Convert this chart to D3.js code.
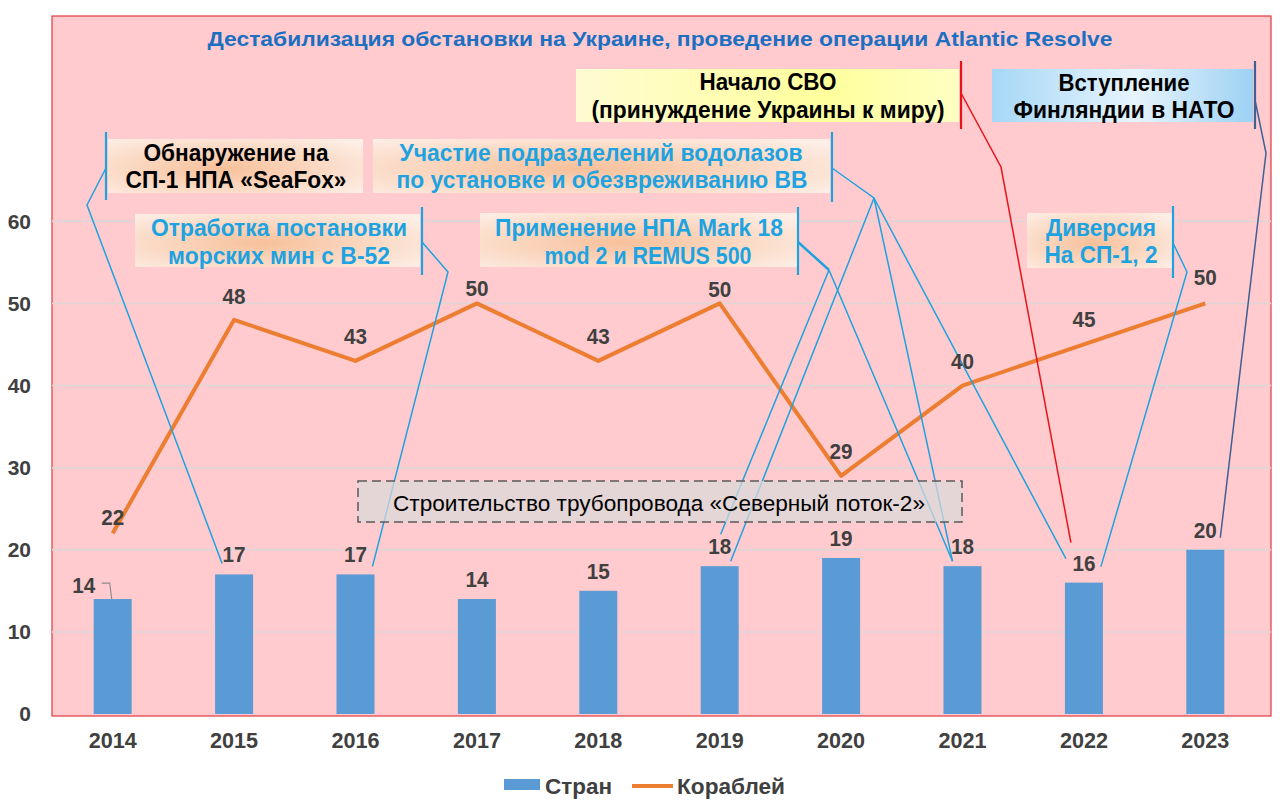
<!DOCTYPE html>
<html>
<head>
<meta charset="utf-8">
<script src="https://cdn.jsdelivr.net/npm/d3@7"></script>
<style>
  html, body { margin: 0; padding: 0; background: #ffffff; }
  svg text { font-family: "Liberation Sans", Arial, sans-serif; }
</style>
</head>
<body>
<div id="chart"></div>
<script>
// chart data
const years = ['2014', '2015', '2016', '2017', '2018', '2019', '2020', '2021', '2022', '2023'];
const countries = [14, 17, 17, 14, 15, 18, 19, 18, 16, 20];   // Стран
const ships = [22, 48, 43, 50, 43, 50, 29, 40, 45, 50];       // Кораблей
const yTicks = [0, 10, 20, 30, 40, 50, 60];
const seriesNames = ['Стран', 'Кораблей'];
const title = 'Дестабилизация обстановки на Украине, проведение операции Atlantic Resolve';

// label tweaks (layout only)
const shipLabelDy = [-16, -24, -25, -15, -25, -14, -25, -24, -25, -26];

const W = 1280, H = 804;
const plot = { left: 52, right: 1271, top: 16, bottom: 714 };

const svg = d3.select('#chart').append('svg')
    .attr('width', W)
    .attr('height', H);

const defs = svg.append('defs');
const peach = defs.append('radialGradient').attr('id', 'peach')
    .attr('cx', '45%').attr('cy', '55%').attr('r', '70%');
peach.append('stop').attr('offset', '0%').attr('stop-color', '#f7c09a');
peach.append('stop').attr('offset', '100%').attr('stop-color', '#fdeee6');
const yellow = defs.append('linearGradient').attr('id', 'yellow');
yellow.append('stop').attr('offset', '0%').attr('stop-color', '#fffbd2');
yellow.append('stop').attr('offset', '65%').attr('stop-color', '#ffff9c');
yellow.append('stop').attr('offset', '100%').attr('stop-color', '#ffffc4');
const blue = defs.append('linearGradient').attr('id', 'lblue');
blue.append('stop').attr('offset', '0%').attr('stop-color', '#a6d7f6');
blue.append('stop').attr('offset', '55%').attr('stop-color', '#e6f4fd');
blue.append('stop').attr('offset', '100%').attr('stop-color', '#9dd1f3');

// plot area
svg.append('rect')
    .attr('x', plot.left).attr('y', plot.top)
    .attr('width', plot.right - plot.left).attr('height', plot.bottom + 2 - plot.top)
    .attr('fill', '#ffcbce')
    .attr('stroke', '#e03a3f').attr('stroke-width', 1.2);

const x = d3.scaleBand().domain(years).range([52, 1266]).paddingInner(0.687).paddingOuter(0.3435);
const y = d3.scaleLinear().domain([0, 85]).range([plot.bottom, plot.top]);
const cx = d => x(d) + x.bandwidth() / 2;

// grid
svg.append('g').selectAll('line')
    .data(yTicks.filter(t => t > 0))
    .join('line')
    .attr('x1', plot.left).attr('x2', plot.right)
    .attr('y1', d => y(d)).attr('y2', d => y(d))
    .attr('stroke', '#dcd6d7').attr('stroke-width', 1.5);

// axes
const yAxis = svg.append('g')
    .attr('transform', `translate(${plot.left},0)`)
    .call(d3.axisLeft(y).tickValues(yTicks).tickSize(0).tickPadding(21));
yAxis.select('.domain').remove();
yAxis.selectAll('text')
    .attr('font-size', 21).attr('font-weight', 'bold').attr('fill', '#404040')
    .style('font-family', '"Liberation Sans", Arial, sans-serif');

const xAxis = svg.append('g')
    .attr('transform', `translate(0,${plot.bottom})`)
    .call(d3.axisBottom(x).tickSize(0).tickPadding(18));
xAxis.select('.domain').remove();
xAxis.selectAll('text')
    .attr('font-size', 22).attr('font-weight', 'bold').attr('fill', '#404040')
    .attr('textLength', 48).attr('lengthAdjust', 'spacingAndGlyphs')
    .style('font-family', '"Liberation Sans", Arial, sans-serif');

// bars
svg.append('g').selectAll('rect')
    .data(years)
    .join('rect')
    .attr('x', d => x(d))
    .attr('y', (d, i) => y(countries[i]))
    .attr('width', x.bandwidth())
    .attr('height', (d, i) => y(0) - y(countries[i]))
    .attr('fill', '#5b9bd5');

// line
const line = d3.line()
    .x((d, i) => cx(years[i]))
    .y(d => y(d));
svg.append('path')
    .datum(ships)
    .attr('fill', 'none')
    .attr('stroke', '#ed7d31')
    .attr('stroke-width', 4)
    .attr('stroke-linejoin', 'round')
    .attr('d', line);

// bar label position helper
const barLabel = i => [cx(years[i]), y(countries[i]) - 20];
const at = (i, dx, dy) => { const p = barLabel(i); return [p[0] + dx, p[1] + dy]; };

// leader lines
const cyan = '#1ea2e0';
const leaders = [
    { color: cyan, w: 1.5, pts: [[106, 168], [87, 205], at(1, -12, 9)] },
    { color: cyan, w: 1.5, pts: [[422, 242], [448, 272], at(2, 17, 12)] },
    { color: cyan, w: 1.5, pts: [[832, 168], [874, 198], at(5, 11, 15)] },
    { color: cyan, w: 1.5, pts: [[874, 198], at(7, -10, 15)] },
    { color: cyan, w: 1.5, pts: [[874, 198], at(8, -18, -4)] },
    { color: cyan, w: 2.5, pts: [[798, 242], [829, 270]] },
    { color: cyan, w: 1.5, pts: [[829, 270], at(5, 1, -12)] },
    { color: cyan, w: 1.5, pts: [[829, 270], at(7, -10, 15)] },
    { color: cyan, w: 1.5, pts: [[1173, 243], [1187, 272], at(8, 17, 4)] },
    { color: '#e8141c', w: 1.5, pts: [[961, 93], [1001, 167], at(8, -13, -20)] },
    { color: '#3f5f95', w: 1.5, pts: [[1255, 100], [1266, 153], at(9, 15, 8)] }
];
svg.append('g').selectAll('path')
    .data(leaders)
    .join('path')
    .attr('d', d => d3.line()(d.pts))
    .attr('fill', 'none')
    .attr('stroke', d => d.color)
    .attr('stroke-width', d => d.w);

// annotation boxes
const boxes = [
    { x: 576, y: 69, w: 383, h: 53, fill: 'url(#yellow)', color: '#000', bar: '#e8141c', bx: 961, by: [61, 129],
      lines: [['Начало СВО', 768, 82, 137], ['(принуждение Украины к миру)', 768, 110, 353]] },
    { x: 992, y: 69, w: 261, h: 53, fill: 'url(#lblue)', color: '#000', bar: '#3f5f95', bx: 1255, by: [61, 129],
      lines: [['Вступление', 1124, 83, 131], ['Финляндии в НАТО', 1124, 110, 221]] },
    { x: 108, y: 139, w: 255, h: 54, fill: 'url(#peach)', color: '#000', bar: cyan, bx: 106, by: [132, 200],
      lines: [['Обнаружение на', 236, 153, 185], ['СП-1 НПА «SeaFox»', 236, 180, 221]] },
    { x: 373, y: 139, w: 457, h: 54, fill: 'url(#peach)', color: cyan, bar: cyan, bx: 832, by: [132, 202],
      lines: [['Участие подразделений водолазов', 601, 153, 403], ['по установке и обезвреживанию ВВ', 602, 180, 411]] },
    { x: 135, y: 214, w: 285, h: 53, fill: 'url(#peach)', color: cyan, bar: cyan, bx: 422, by: [207, 275],
      lines: [['Отработка постановки', 279, 228, 256], ['морских мин с В-52', 279, 256, 222]] },
    { x: 480, y: 213, w: 317, h: 54, fill: 'url(#peach)', color: cyan, bar: cyan, bx: 798, by: [207, 275],
      lines: [['Применение НПА Mark 18', 639, 228, 288], ['mod 2 и REMUS 500', 648, 256, 207]] },
    { x: 1027, y: 213, w: 146, h: 55, fill: 'url(#peach)', color: cyan, bar: cyan, bx: 1173, by: [206, 278],
      lines: [['Диверсия', 1101, 228, 110], ['На СП-1, 2', 1101, 255, 113]] }
];
const bg = svg.append('g').selectAll('g').data(boxes).join('g');
bg.append('rect')
    .attr('x', d => d.x).attr('y', d => d.y)
    .attr('width', d => d.w).attr('height', d => d.h)
    .attr('fill', d => d.fill);
bg.append('line')
    .attr('x1', d => d.bx).attr('x2', d => d.bx)
    .attr('y1', d => d.by[0]).attr('y2', d => d.by[1])
    .attr('stroke', d => d.bar).attr('stroke-width', 2.2);
bg.each(function(d) {
    d3.select(this).selectAll('text')
        .data(d.lines)
        .join('text')
        .attr('x', l => l[1]).attr('y', l => l[2])
        .attr('dy', '0.36em')
        .attr('text-anchor', 'middle')
        .attr('font-size', 23).attr('font-weight', 'bold')
        .attr('fill', d.color)
        .attr('textLength', l => l[3])
        .attr('lengthAdjust', 'spacingAndGlyphs')
        .text(l => l[0]);
});

// title
svg.append('text')
    .attr('x', 660).attr('y', 38).attr('dy', '0.36em')
    .attr('text-anchor', 'middle')
    .attr('font-size', 21).attr('font-weight', 'bold')
    .attr('fill', '#1c6fc1')
    .attr('textLength', 905).attr('lengthAdjust', 'spacingAndGlyphs')
    .text(title);

// Nord Stream box
svg.append('rect')
    .attr('x', 358).attr('y', 481).attr('width', 604).attr('height', 41)
    .attr('fill', '#d9d9d9').attr('fill-opacity', 0.72)
    .attr('stroke', '#595959').attr('stroke-width', 1.5)
    .attr('stroke-dasharray', '9,5');
svg.append('text')
    .attr('x', 659).attr('y', 503).attr('dy', '0.36em')
    .attr('text-anchor', 'middle')
    .attr('font-size', 22).attr('fill', '#000')
    .attr('textLength', 532).attr('lengthAdjust', 'spacingAndGlyphs')
    .text('Строительство трубопровода «Северный поток-2»');

// data labels
const labelStyle = sel => sel
    .attr('text-anchor', 'middle').attr('dy', '0.36em')
    .attr('font-size', 22).attr('font-weight', 'bold')
    .attr('fill', '#404040')
    .attr('textLength', 23).attr('lengthAdjust', 'spacingAndGlyphs');

svg.append('g').selectAll('text')
    .data(ships)
    .join('text')
    .attr('x', (d, i) => cx(years[i]))
    .attr('y', (d, i) => y(d) + shipLabelDy[i])
    .call(labelStyle)
    .text(d => d);

svg.append('g').selectAll('text')
    .data(countries)
    .join('text')
    .attr('x', (d, i) => i === 0 ? cx(years[i]) - 29 : cx(years[i]))
    .attr('y', (d, i) => i === 0 ? y(d) - 14 : y(d) - 20)
    .call(labelStyle)
    .text(d => d);

// small leader for the 2014 label
svg.append('path')
    .attr('d', d3.line()([[cx(years[0]) - 11, y(countries[0]) - 16], [cx(years[0]) - 3, y(countries[0]) - 16], [cx(years[0]) - 1, y(countries[0])]]))
    .attr('fill', 'none').attr('stroke', '#8c8c8c').attr('stroke-width', 1.2);

// legend
const legend = svg.append('g');
legend.append('rect')
    .attr('x', 504).attr('y', 779).attr('width', 36).attr('height', 11)
    .attr('fill', '#5b9bd5');
legend.append('line')
    .attr('x1', 632).attr('x2', 673).attr('y1', 786).attr('y2', 786)
    .attr('stroke', '#ed7d31').attr('stroke-width', 4);
legend.selectAll('text')
    .data(seriesNames)
    .join('text')
    .attr('x', (d, i) => i === 0 ? 545 : 677)
    .attr('y', 786).attr('dy', '0.36em')
    .attr('font-size', 22).attr('font-weight', 'bold')
    .attr('fill', '#404040')
    .attr('textLength', (d, i) => i === 0 ? 67 : 108)
    .attr('lengthAdjust', 'spacingAndGlyphs')
    .text(d => d);
</script>
</body>
</html>
